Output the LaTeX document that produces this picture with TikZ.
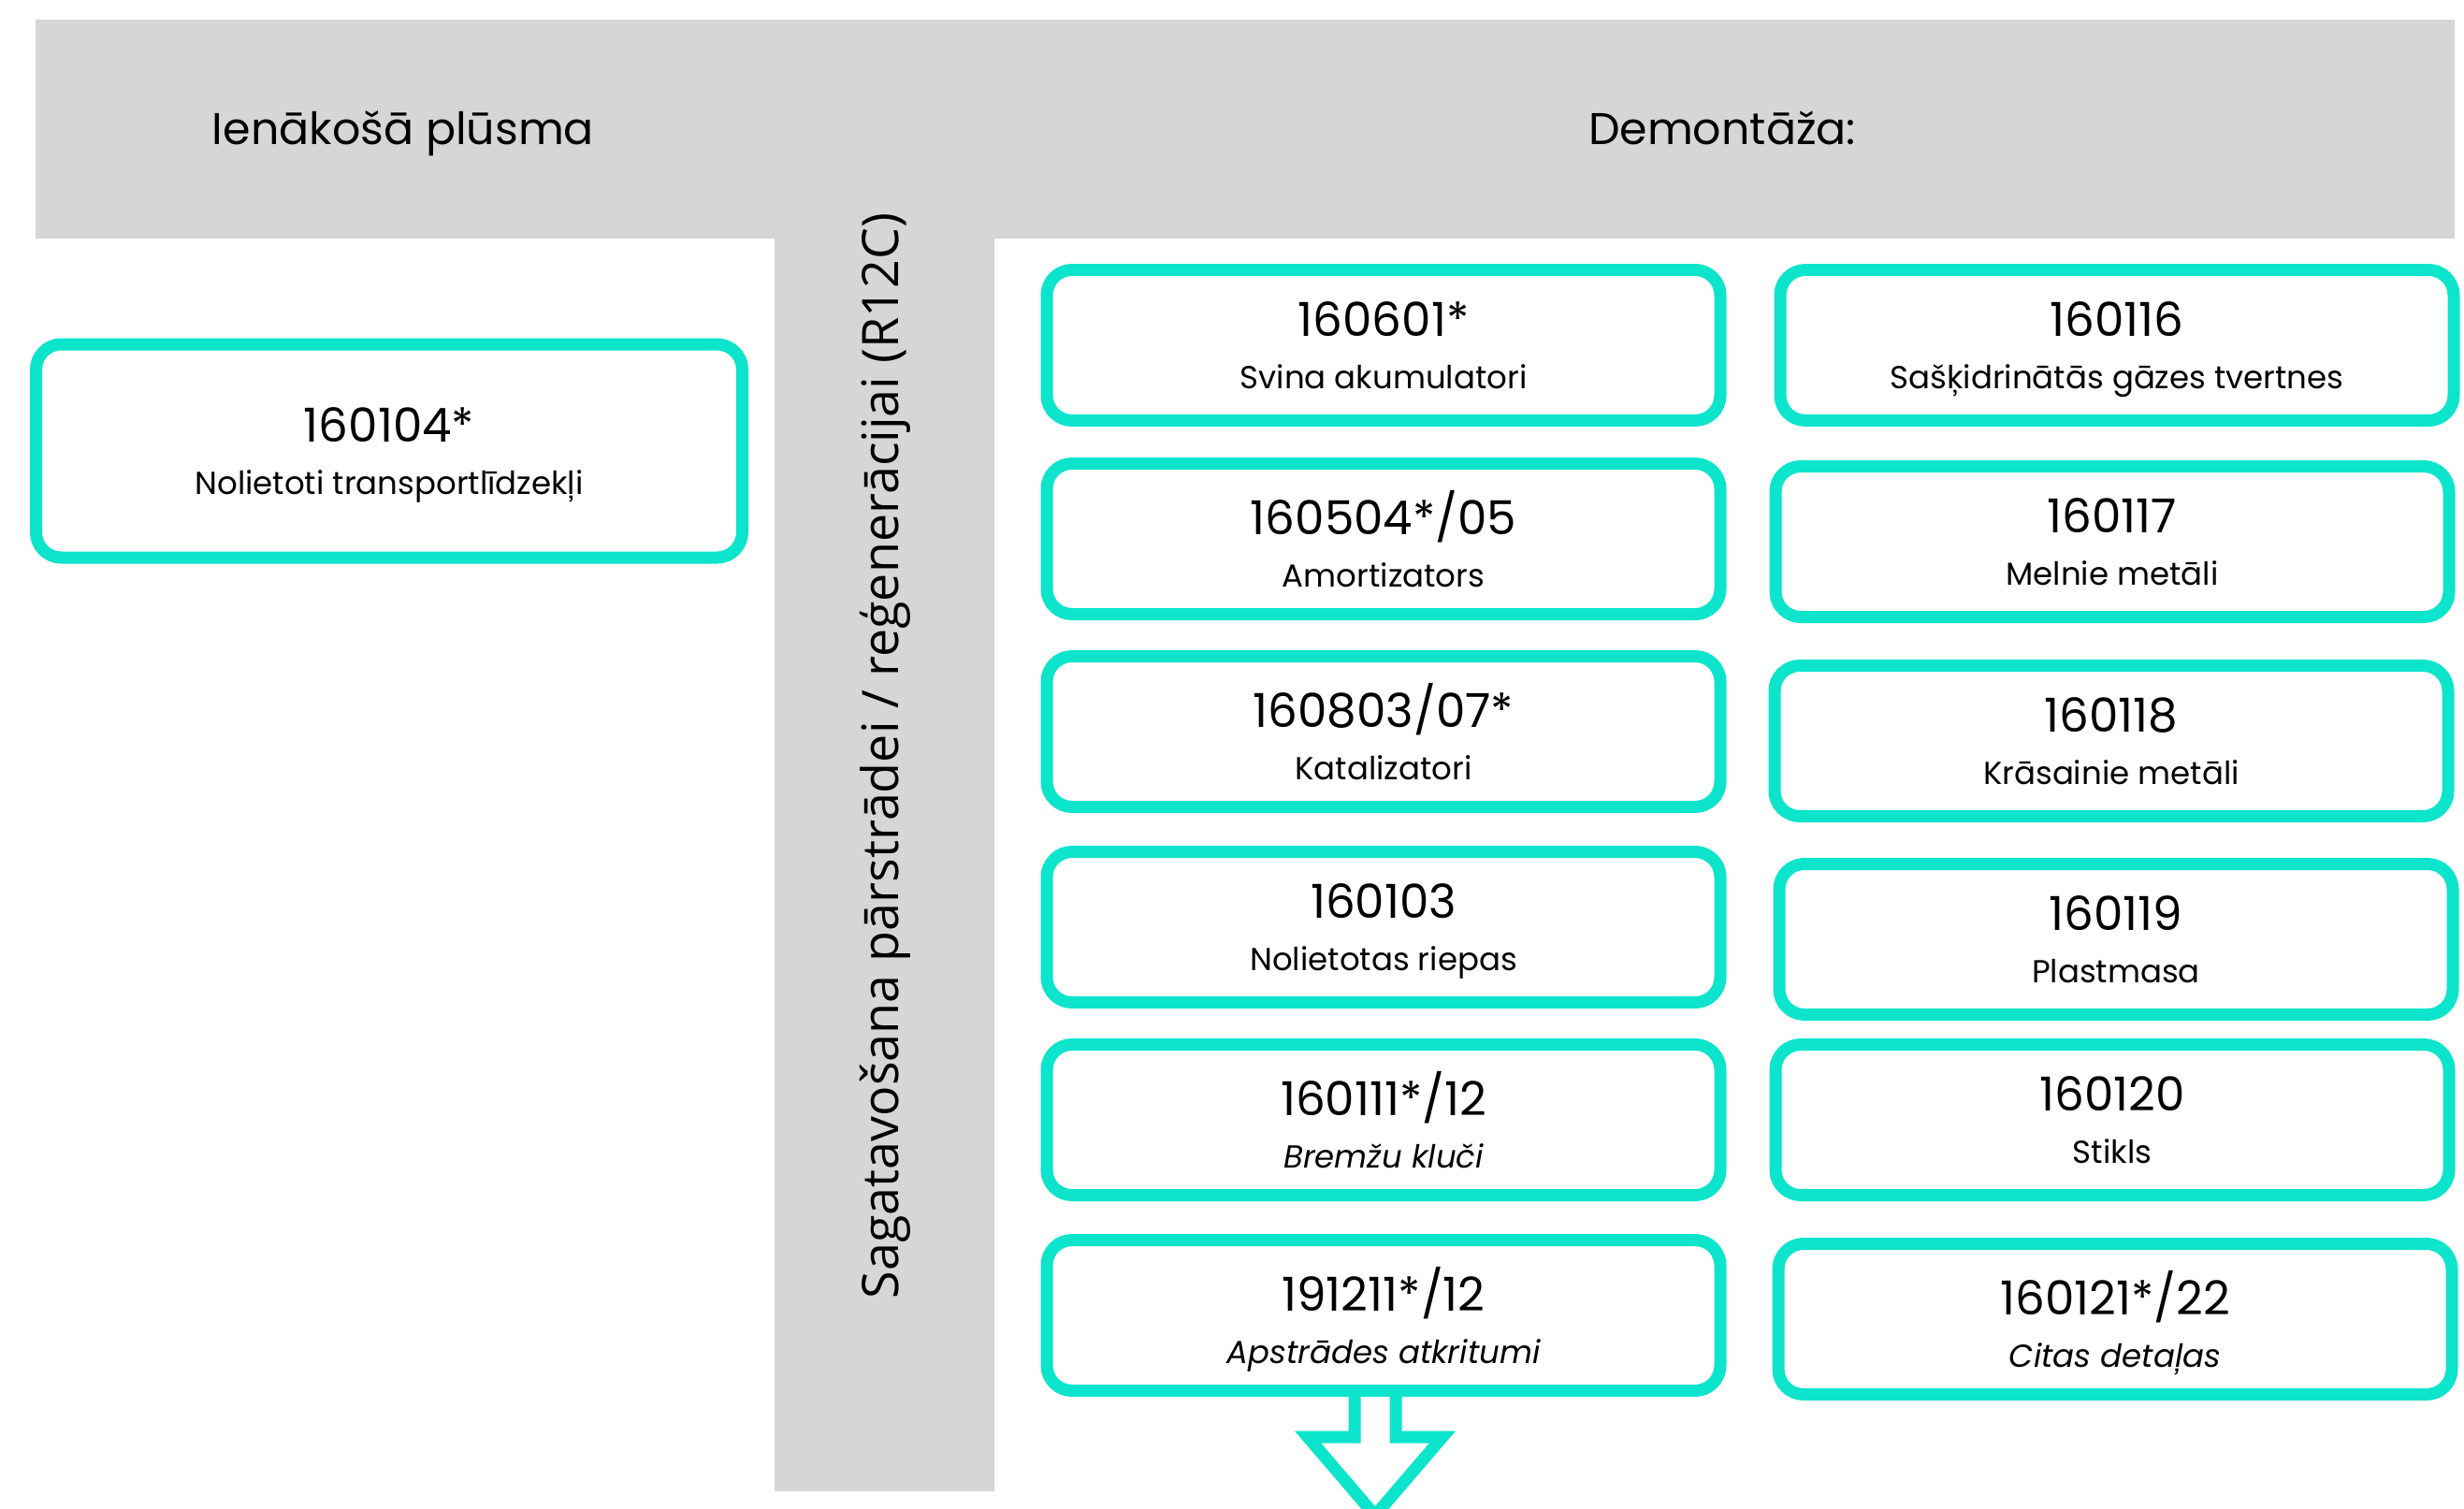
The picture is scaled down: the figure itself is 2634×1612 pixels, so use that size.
\documentclass[tikz,border=0pt]{standalone}
\usepackage{fontspec}
\setmainfont{Poppins}
\newfontfamily\barfont{Open Sans}

\definecolor{boxteal}{RGB}{12,228,204}
\definecolor{bandgray}{RGB}{214,214,214}
\newcommand\numfont{\fontsize{50}{56}\selectfont}
\newcommand\descfont{\fontsize{34}{56}\selectfont}

\tikzset{
  wastebox/.style={draw=boxteal, line width=13pt, rounded corners=27pt, fill=white,
    minimum width=720pt, minimum height=161pt, inner sep=0pt, align=center, font=\descfont},
  headtext/.style={font=\fontsize{47.5}{60}\selectfont, anchor=base},
}

\begin{document}
\begin{tikzpicture}[x=1pt, y=-1pt]
    % Page frame
    \useasboundingbox (0,0) rectangle (2634,1612);
    \clip (0,0) rectangle (2634,1612);

    % Gray T band
    \fill[bandgray] (38,21) -- (2624,21) -- (2624,255) -- (1063,255) -- (1063,1594)
      -- (828,1594) -- (828,255) -- (38,255) -- cycle;

    % Headers
    \node[headtext] (inflow) at (431,154) {Ienākošā plūsma};
    \node[headtext] (dismantle) at (1841,154) {Demontāža:};
    \node[rotate=90, anchor=base, font=\barfont\fontsize{53.8}{60}\selectfont] (prep)
      at (960,808) {Sagatavošana pārstrādei / reģenerācijai (R12C)};

    % Incoming flow
    \node[wastebox, minimum width=755pt, minimum height=228pt] (elv) at (416,482)
      {{\numfont 160104*}\\\smash{Nolietoti transportlīdzekļi}};

    % Left column
    \node[wastebox] (lead) at (1479,369) {{\numfont 160601*}\\\smash{Svina akumulatori}};
    \node[wastebox] (shock) at (1479,576) {{\numfont 160504*/05}\\\smash{Amortizators}};
    \node[wastebox] (catal) at (1479,782) {{\numfont 160803/07*}\\\smash{Katalizatori}};
    \node[wastebox] (tyres) at (1479,991) {{\numfont 160103}\\\smash{Nolietotas riepas}};
    \node[wastebox] (brakes) at (1479,1197) {{\numfont 160111*/12}\\\smash{\itshape Bremžu kluči}};
    \node[wastebox] (residue) at (1479,1406) {{\numfont 191211*/12}\\\smash{\itshape Apstrādes atkritumi}};

    % Right column
    \node[wastebox] (lpg) at (2263,369) {{\numfont 160116}\\\smash{Sašķidrinātās gāzes tvertnes}};
    \node[wastebox] (ferrous) at (2258,579) {{\numfont 160117}\\\smash{Melnie metāli}};
    \node[wastebox] (nonferr) at (2257,792) {{\numfont 160118}\\\smash{Krāsainie metāli}};
    \node[wastebox] (plastic) at (2262,1004) {{\numfont 160119}\\\smash{Plastmasa}};
    \node[wastebox] (glass) at (2258,1197) {{\numfont 160120}\\\smash{Stikls}};
    \node[wastebox] (other) at (2261,1410) {{\numfont 160121*/22}\\\smash{\itshape Citas detaļas}};

    % Outlined down arrow
    \draw[boxteal, line width=13pt, line join=miter]
      ([xshift=-31pt]residue.south) -- ++(0,43) -- ++(-50,0) -- ++(72,84)
      -- ++(72,-84) -- ++(-50,0) -- ++(0,-43);
  \end{tikzpicture}
\end{document}
